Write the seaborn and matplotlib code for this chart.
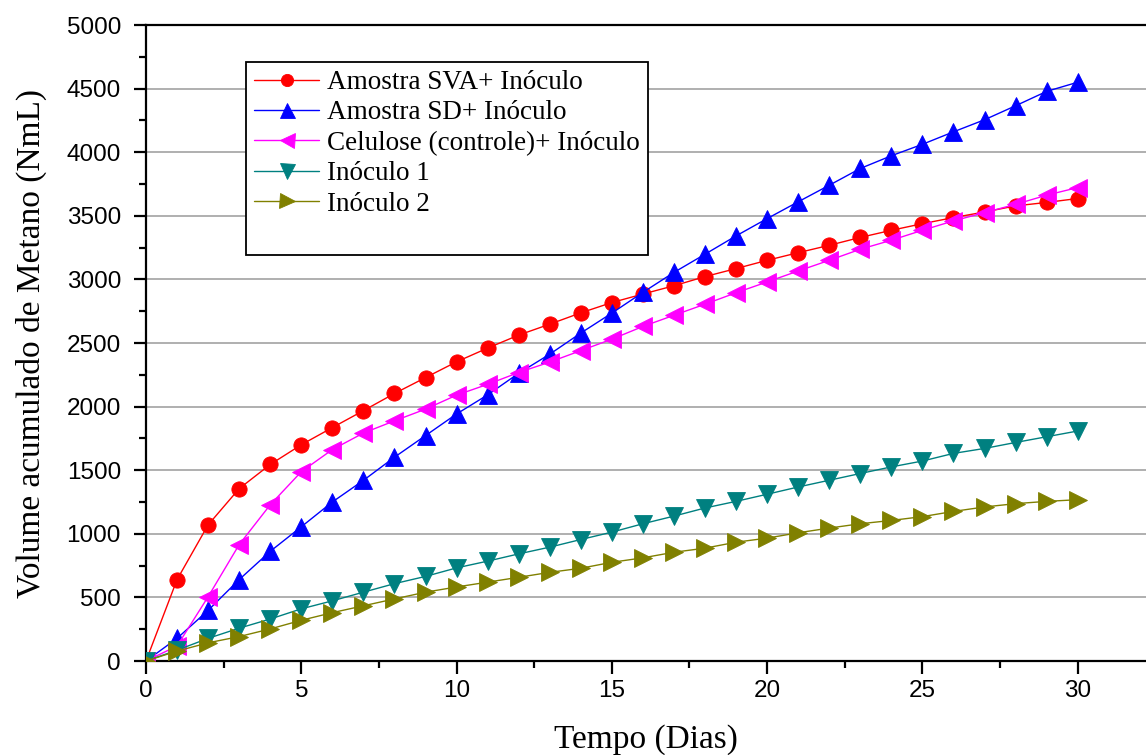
import numpy as np
import pandas as pd
import matplotlib
matplotlib.use("Agg")
import matplotlib.pyplot as plt
from matplotlib.lines import Line2D
from matplotlib.ticker import MultipleLocator
import seaborn as sns

# Tempo de digestão (dias)
dias = list(range(0, 31))

# Volume acumulado de metano (NmL) por ensaio
sva_inoculo = [0, 640, 1070, 1355, 1545, 1700, 1835, 1968, 2103, 2228, 2352,
               2460, 2562, 2648, 2737, 2818, 2885, 2950, 3022, 3085, 3150,
               3210, 3268, 3330, 3386, 3438, 3486, 3530, 3578, 3605, 3636]
sd_inoculo = [0, 178, 398, 640, 862, 1055, 1250, 1420, 1602, 1772, 1942,
              2092, 2262, 2412, 2578, 2735, 2898, 3055, 3198, 3342, 3478,
              3610, 3740, 3872, 3972, 4062, 4160, 4255, 4365, 4478, 4550]
celulose_inoculo = [0, 118, 505, 915, 1228, 1488, 1662, 1792, 1888, 1980, 2090,
                    2175, 2268, 2350, 2440, 2530, 2630, 2718, 2805, 2895, 2980,
                    3066, 3150, 3237, 3308, 3386, 3460, 3525, 3590, 3662, 3722]
inoculo_1 = [0, 85, 178, 258, 330, 410, 473, 541, 608, 665, 732,
             785, 842, 895, 955, 1013, 1079, 1139, 1203, 1255, 1311,
             1368, 1421, 1474, 1526, 1572, 1632, 1671, 1718, 1763, 1808]
inoculo_2 = [0, 78, 143, 192, 252, 320, 380, 434, 488, 541, 582,
             620, 658, 697, 729, 776, 811, 855, 887, 934, 966,
             1008, 1045, 1079, 1105, 1135, 1176, 1211, 1237, 1255, 1268]

series_labels = ["Amostra SVA+ Inóculo", "Amostra SD+ Inóculo",
                 "Celulose (controle)+ Inóculo", "Inóculo 1", "Inóculo 2"]
series_values = [sva_inoculo, sd_inoculo, celulose_inoculo, inoculo_1, inoculo_2]
series_colors = ["#ff0000", "#0000ff", "#ff00ff", "#008080", "#808000"]
series_markers = ["o", "^", "<", "v", ">"]
series_msize = [11, 13.5, 13.5, 13.5, 13.5]

sns.set_theme(style="white")
plt.rcParams["font.family"] = ["Liberation Sans", "DejaVu Sans"]
plt.rcParams["text.color"] = "black"

fig = plt.figure(figsize=(11.46, 7.55), dpi=100)
ax = fig.add_axes([146 / 1146, 94 / 755, 1000 / 1146, 636 / 755])

for label, vals, color, mk, ms in zip(series_labels, series_values,
                                      series_colors, series_markers, series_msize):
    df = pd.DataFrame({"dia": dias, "volume": vals})
    sns.lineplot(data=df, x="dia", y="volume", ax=ax, color=color,
                 marker=mk, markersize=ms, markeredgecolor=color,
                 markeredgewidth=0.6, linewidth=1.0, label=label, zorder=3)

ax.set_xlim(0, 32.2)
ax.set_ylim(0, 5000)
ax.xaxis.set_major_locator(MultipleLocator(5))
ax.xaxis.set_minor_locator(MultipleLocator(2.5))
ax.yaxis.set_major_locator(MultipleLocator(500))
ax.yaxis.set_minor_locator(MultipleLocator(250))

ax.grid(False)
ax.yaxis.grid(True, which="major", color="#9a9a9a", linewidth=1.1, zorder=0)
ax.set_axisbelow(True)

for side in ["left", "bottom", "top"]:
    ax.spines[side].set_visible(True)
    ax.spines[side].set_color("black")
    ax.spines[side].set_linewidth(1.6)
ax.spines["right"].set_visible(False)

ax.tick_params(axis="both", which="major", direction="out", length=9, width=1.6,
               color="black", labelsize=17.5, labelcolor="black")
ax.tick_params(axis="both", which="minor", direction="out", length=5, width=1.6,
               color="black")
ax.tick_params(axis="x", which="both", bottom=True, top=False, pad=5)
ax.tick_params(axis="y", which="both", left=True, right=False, pad=9)

serif = ["Liberation Serif", "DejaVu Serif"]
ax.set_xlabel("Tempo (Dias)", family=serif, fontsize=24, color="black", labelpad=16)
ax.set_ylabel("Volume acumulado de Metano (NmL)", family=serif, fontsize=24,
              color="black", labelpad=14)

handles, labels = ax.get_legend_handles_labels()
handles.append(Line2D([], [], linestyle="none"))
labels.append("")
leg = ax.legend(handles, labels, loc="upper left", bbox_to_anchor=(0.1, 0.942),
                prop={"family": serif, "size": 19.5}, frameon=True, fancybox=False,
                edgecolor="black", framealpha=1, borderpad=0.3, labelspacing=0.2,
                handlelength=2.4, handletextpad=0.3, markerscale=0.8,
                borderaxespad=0, labelcolor="black")
leg.get_frame().set_linewidth(1.3)

fig.savefig("out.png", dpi=100)
